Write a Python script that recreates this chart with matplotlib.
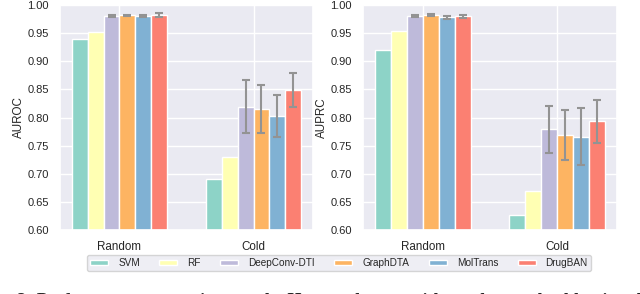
import numpy as np
import matplotlib
matplotlib.use("Agg")
import matplotlib.pyplot as plt
import seaborn as sns

models = ["SVM", "RF", "DeepConv-DTI", "GraphDTA", "MolTrans", "DrugBAN"]
colors = ["#8dd3c7", "#ffffb3", "#bebada", "#fdb462", "#80b1d3", "#fb8072"]
splits = ["Random", "Cold"]

# AUROC (mean, std) per split
auroc_random = [0.939, 0.952, 0.981, 0.982, 0.981, 0.982]
auroc_random_err = [np.nan, np.nan, 0.002, 0.001, 0.002, 0.003]
auroc_cold = [0.690, 0.730, 0.819, 0.815, 0.803, 0.849]
auroc_cold_err = [np.nan, np.nan, 0.047, 0.042, 0.037, 0.031]

# AUPRC (mean, std) per split
auprc_random = [0.920, 0.953, 0.981, 0.982, 0.978, 0.980]
auprc_random_err = [np.nan, np.nan, 0.002, 0.002, 0.003, 0.003]
auprc_cold = [0.626, 0.670, 0.779, 0.769, 0.766, 0.793]
auprc_cold_err = [np.nan, np.nan, 0.042, 0.044, 0.051, 0.039]

sns.set_theme(style="darkgrid")
plt.rcParams["font.family"] = ["Liberation Sans", "DejaVu Sans"]

fig = plt.figure(figsize=(6.4, 2.94), dpi=100)
ax1 = fig.add_axes([60 / 640, 64 / 294, 253 / 640, 225 / 294])
ax2 = fig.add_axes([363 / 640, 64 / 294, 254 / 640, 225 / 294])

bar_w = 0.119
x = np.arange(len(splits))


def draw_panel(ax, rand, rand_err, cold, cold_err, ylabel):
    for i, m in enumerate(models):
        pos = x + (i - 2.5) * bar_w
        vals = [rand[i], cold[i]]
        errs = [rand_err[i], cold_err[i]]
        ax.bar(pos, vals, width=bar_w, color=colors[i], edgecolor="white",
               linewidth=1.0, label=m, zorder=2)
        if not np.isnan(errs).all():
            ax.errorbar(pos, vals, yerr=errs, fmt="none", ecolor="#939393",
                        elinewidth=1.5, capsize=3, capthick=1.5, zorder=3)
    ax.set_ylim(0.60, 1.00)
    ax.set_xlim(-0.444, 1.444)
    ax.set_yticks(np.arange(0.60, 1.001, 0.05))
    ax.set_yticklabels([f"{t:.2f}" for t in np.arange(0.60, 1.001, 0.05)])
    ax.set_xticks(x)
    ax.set_xticklabels(splits, fontsize=8.4)
    ax.tick_params(axis="y", labelsize=8, pad=2)
    ax.tick_params(axis="x", pad=2)
    ax.set_ylabel(ylabel, fontsize=8.4, labelpad=2)


draw_panel(ax1, auroc_random, auroc_random_err, auroc_cold, auroc_cold_err, "AUROC")
draw_panel(ax2, auprc_random, auprc_random_err, auprc_cold, auprc_cold_err, "AUPRC")

handles, labels = ax1.get_legend_handles_labels()
fig.legend(handles, labels, loc="upper center", bbox_to_anchor=(339 / 640, 1 - 250 / 294),
           ncol=6, fontsize=7.2, frameon=True, handlelength=1.8, handleheight=0.5,
           columnspacing=1.95, handletextpad=1.0, borderpad=0.3)

# caption of the original figure, cut off at the bottom edge
fig.text(-0.06, 1 - 293 / 294,
         "Figure 2: Performance comparison on the Human dataset with random and cold pair split.",
         fontfamily="Liberation Serif", fontweight="bold", fontsize=13, va="top", ha="left")

fig.savefig("out.png", dpi=100)
